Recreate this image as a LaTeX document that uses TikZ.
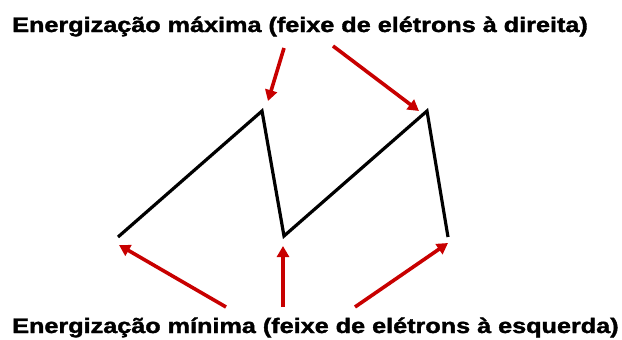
\documentclass[tikz,border=0pt]{standalone}
\usepackage{fontspec}
\setmainfont{Liberation Sans}
\newfontfamily\heavyfont[FakeBold=1.5]{Liberation Sans}
\usetikzlibrary{arrows.meta}
\definecolor{arrred}{RGB}{200,0,0}
\tikzset{
  wave/.style={line width=3.2pt, black, line join=miter},
  redarrow/.style={line width=3.6pt, arrred, -{Triangle[length=11pt,width=12pt]}},
  label/.style={font=\heavyfont\bfseries\fontsize{21}{24}\selectfont, inner sep=0pt, xscale=1.2}
}
\begin{document}
\begin{tikzpicture}[x=1pt,y=-1pt]
\useasboundingbox (0,0) rectangle (622,340);
\node[label, anchor=base west] (top) at (12,32) {Energização máxima (feixe de elétrons à direita)};
\node[label, anchor=base west] (bot) at (12,333) {Energização mínima (feixe de elétrons à esquerda)};
\coordinate (v1) at (118,237);
\coordinate (p1) at (262,111);
\coordinate (v2) at (284,236);
\coordinate (p2) at (427,111);
\coordinate (v3) at (448,237);
\draw[wave] (v1) -- (p1) -- (v2) -- (p2) -- (v3);
\coordinate (t1s) at (284,48);
\coordinate (t1e) at (268,101);
\coordinate (t2s) at (333,46);
\coordinate (t2e) at (419,111);
\coordinate (b1s) at (226,307);
\coordinate (b1e) at (119,245);
\coordinate (b2s) at (283,307);
\coordinate (b2e) at (283,246);
\coordinate (b3s) at (355,307);
\coordinate (b3e) at (448,243);
\draw[redarrow] (t1s) -- (t1e);
\draw[redarrow] (t2s) -- (t2e);
\draw[redarrow] (b1s) -- (b1e);
\draw[redarrow] (b2s) -- (b2e);
\draw[redarrow] (b3s) -- (b3e);
\end{tikzpicture}
\end{document}
